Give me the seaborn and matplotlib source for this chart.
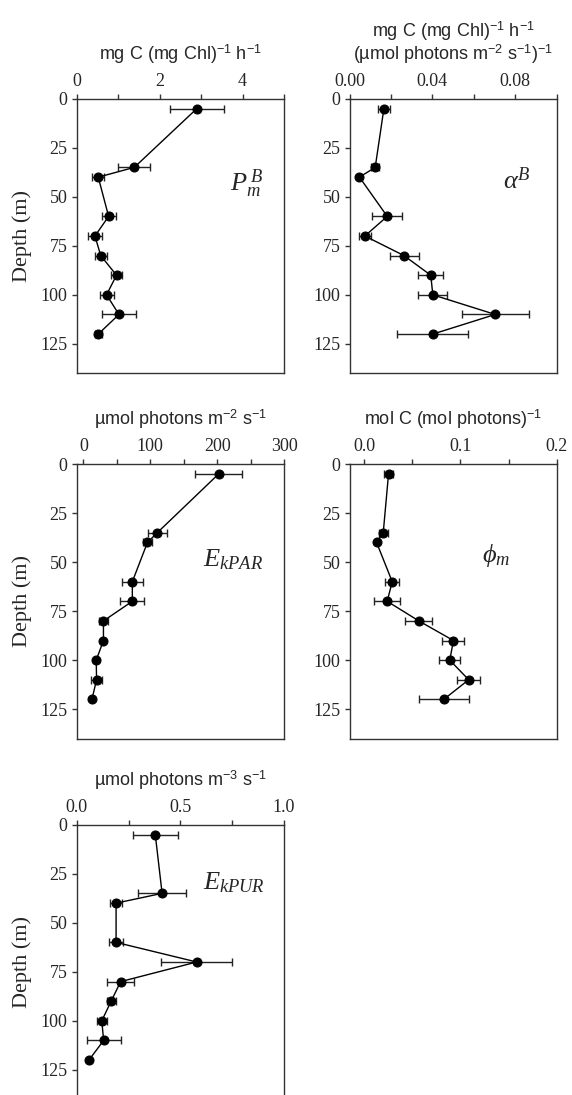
import matplotlib
matplotlib.use("Agg")
import matplotlib.pyplot as plt
import seaborn as sns
import pandas as pd
from matplotlib.ticker import FixedLocator, FormatStrFormatter

# ---------------- data ----------------
depth = [5, 35, 40, 60, 70, 80, 90, 100, 110, 120]

pmb = [2.90, 1.39, 0.52, 0.77, 0.44, 0.58, 0.96, 0.72, 1.02, 0.52]
pmb_err = [0.66, 0.39, 0.15, 0.17, 0.17, 0.15, 0.13, 0.17, 0.40, 0.08]

alphab = [0.0166, 0.0124, 0.0048, 0.0182, 0.0074, 0.0263, 0.0392, 0.0402, 0.0703, 0.0402]
alphab_err = [0.0027, 0.0020, 0.0, 0.0072, 0.0030, 0.0070, 0.0060, 0.0070, 0.0162, 0.0171]

ekpar = [202.5, 110.6, 95.8, 73.2, 73.2, 30.0, 30.0, 19.2, 19.7, 12.8]
ekpar_err = [35.0, 14.0, 7.0, 16.0, 18.0, 6.5, 0.0, 0.0, 8.0, 0.0]

phim = [0.0255, 0.0200, 0.0131, 0.0293, 0.0241, 0.0569, 0.0928, 0.0890, 0.1086, 0.0828]
phim_err = [0.0047, 0.0045, 0.0, 0.0070, 0.0134, 0.0140, 0.0114, 0.0110, 0.0120, 0.0257]

ekpur = [0.379, 0.412, 0.190, 0.190, 0.579, 0.212, 0.166, 0.121, 0.130, 0.059]
ekpur_err = [0.109, 0.117, 0.030, 0.033, 0.170, 0.066, 0.022, 0.023, 0.082, 0.0]

depth_ticks = [0, 25, 50, 75, 100, 125]

# ---------------- style ----------------
sns.set_style("ticks")
plt.rcParams["font.family"] = ["Liberation Serif", "DejaVu Serif"]
plt.rcParams["mathtext.fontset"] = "custom"
plt.rcParams["mathtext.rm"] = "Liberation Sans"
plt.rcParams["mathtext.it"] = "Liberation Serif:italic"
plt.rcParams["mathtext.bf"] = "Liberation Sans:bold"
plt.rcParams["axes.edgecolor"] = "#333333"
plt.rcParams["axes.linewidth"] = 1.0

W, H = 572, 1095
fig = plt.figure(figsize=(W / 100, H / 100), dpi=100)

col_left = [76.7, 349.5]
col_w = 207.3
row_top = [98.7, 464.0, 824.7]
row_h = 274.6


def make_ax(col, row):
    l = col_left[col] / W
    b = 1 - (row_top[row] + row_h) / H
    return fig.add_axes([l, b, col_w / W, row_h / H])


panels = [
    dict(pos=(0, 0), x=pmb, err=pmb_err, xlim=(0, 5), major=[0, 2, 4], minor=[1, 3, 5],
         fmt="%d", xlabel="mg C (mg Chl)$^{-1}$ h$^{-1}$", tag=r"$P_m^{\,B}$",
         tagpos=(0.74, 0.69), ylabel=True),
    dict(pos=(1, 0), x=alphab, err=alphab_err, xlim=(0, 0.1), major=[0.0, 0.04, 0.08],
         minor=[0.02, 0.06, 0.10], fmt="%.2f",
         xlabel="mg C (mg Chl)$^{-1}$ h$^{-1}$\n(\u00b5mol photons m$^{-2}$ s$^{-1}$)$^{-1}$",
         tag=r"$\alpha^B$", tagpos=(0.74, 0.70), ylabel=False),
    dict(pos=(0, 1), x=ekpar, err=ekpar_err, xlim=(-10, 300), major=[0, 100, 200, 300],
         minor=[50, 150, 250], fmt="%d", xlabel="\u00b5mol photons m$^{-2}$ s$^{-1}$",
         tag=r"$E_{kPAR}$", tagpos=(0.61, 0.65), ylabel=True),
    dict(pos=(1, 1), x=phim, err=phim_err, xlim=(-0.015, 0.2), major=[0.0, 0.1, 0.2],
         minor=[0.05, 0.15], fmt="%.1f", xlabel="mol C (mol photons)$^{-1}$",
         tag=r"$\phi_m$", tagpos=(0.64, 0.665), ylabel=False),
    dict(pos=(0, 2), x=ekpur, err=ekpur_err, xlim=(0, 1.0), major=[0.0, 0.5, 1.0],
         minor=[0.25, 0.75], fmt="%.1f", xlabel="\u00b5mol photons m$^{-3}$ s$^{-1}$",
         tag=r"$E_{kPUR}$", tagpos=(0.61, 0.79), ylabel=True),
]

for p in panels:
    ax = make_ax(*p["pos"])
    df = pd.DataFrame({"val": p["x"], "depth": depth})
    ax.errorbar(df["val"], df["depth"], xerr=p["err"], fmt="none", ecolor="#222222",
                elinewidth=1.0, capsize=3, capthick=1.0, zorder=2)
    sns.lineplot(data=df, x="val", y="depth", orient="y", sort=True, color="black",
                 linewidth=1.0, marker="o", markersize=6.5, markeredgecolor="black",
                 markerfacecolor="black", ax=ax, zorder=3, errorbar=None)
    ax.set_xlim(*p["xlim"])
    ax.set_ylim(140, 0)
    ax.xaxis.tick_top()
    ax.xaxis.set_label_position("top")
    ax.xaxis.set_major_locator(FixedLocator(p["major"]))
    ax.xaxis.set_minor_locator(FixedLocator(p["minor"]))
    ax.xaxis.set_major_formatter(FormatStrFormatter(p["fmt"]))
    ax.yaxis.set_major_locator(FixedLocator(depth_ticks))
    ax.tick_params(axis="both", which="both", direction="out", length=3.5, width=1,
                   color="#333333", labelsize=13, pad=3)
    ax.tick_params(axis="x", which="minor", labeltop=False)
    for lab in ax.get_xticklabels() + ax.get_yticklabels():
        lab.set_family(["Liberation Serif"])
    ax.set_xlabel(p["xlabel"], fontsize=13, family=["Liberation Sans", "DejaVu Sans"],
                  labelpad=9, linespacing=1.0)
    if p["ylabel"]:
        ax.set_ylabel("Depth (m)", fontsize=16, family=["Liberation Serif"], labelpad=6)
    else:
        ax.set_ylabel("")
    ax.text(p["tagpos"][0], p["tagpos"][1], p["tag"], transform=ax.transAxes,
            fontsize=19, ha="left", va="center")
    for s in ax.spines.values():
        s.set_visible(True)
        s.set_color("#333333")

fig.savefig("out.png", dpi=100)
